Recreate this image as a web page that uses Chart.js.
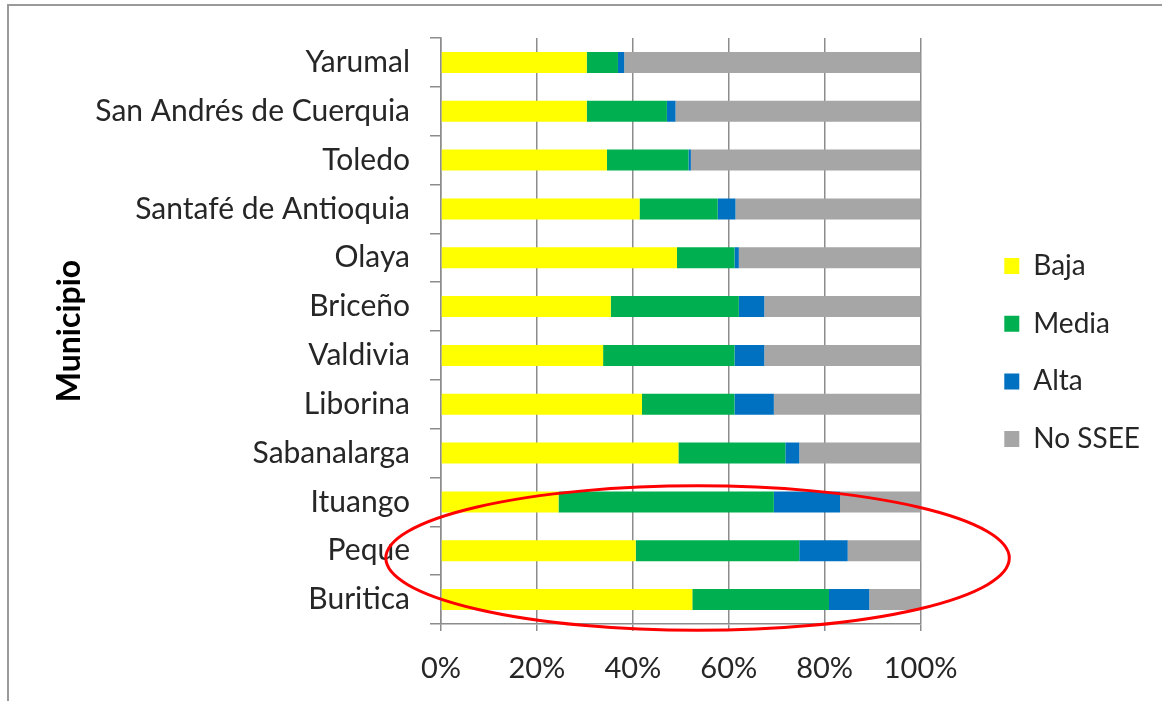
<!DOCTYPE html>
<html>
<head>
<meta charset="utf-8">
<script src="https://cdn.jsdelivr.net/npm/chart.js@4.4.1/dist/chart.umd.min.js"></script>
<style>
  html, body { margin: 0; padding: 0; background: #fff; }
  #wrap { position: relative; width: 1162px; height: 701px; }
  #frame { position: absolute; left: 7px; top: 4px; right: 0; bottom: 0;
           border-top: 2px solid #9a9a9a; border-left: 2px solid #9a9a9a; pointer-events: none; }
</style>
</head>
<body>
<div id="wrap">
  <canvas id="c" width="1162" height="701"></canvas>
  <div id="frame"></div>
</div>
<script>
const categories = ['Yarumal', 'San Andrés de Cuerquia', 'Toledo', 'Santafé de Antioquia', 'Olaya',
  'Briceño', 'Valdivia', 'Liborina', 'Sabanalarga', 'Ituango', 'Peque', 'Buritica'];
const baja   = [30.4, 30.4, 34.6, 41.4, 49.2, 35.4, 33.8, 41.9, 49.5, 24.5, 40.6, 52.4];
const media  = [ 6.5, 16.7, 17.0, 16.3, 12.0, 26.7, 27.4, 19.3, 22.3, 44.9, 34.1, 28.5];
const alta   = [ 1.3,  1.8,  0.5,  3.7,  0.9,  5.3,  6.2,  8.2,  2.9, 13.8, 10.1,  8.4];
const noSsee = [61.8, 51.1, 47.9, 38.6, 37.9, 32.6, 32.6, 30.6, 25.3, 16.8, 15.2, 10.7];
const xTicks = [0, 20, 40, 60, 80, 100];
const seriesNames = ['Baja', 'Media', 'Alta', 'No SSEE'];

const FONT = 'Lato, "Open Sans", sans-serif';
const TEXT = '#262626';
const GRID = '#8c8c8c';

const ellipsePlugin = {
  id: 'ellipse',
  afterDatasetsDraw(chart) {
    const x = chart.scales.x, y = chart.scales.y;
    const cx = x.getPixelForValue(53.5);
    const cy = y.getPixelForValue(10.15);
    const rx = x.getPixelForValue(65) - x.getPixelForValue(0);
    const ry = (y.getPixelForValue(1) - y.getPixelForValue(0)) * 1.48;
    const ctx = chart.ctx;
    ctx.save();
    ctx.beginPath();
    ctx.ellipse(cx, cy, rx, ry, 0, 0, Math.PI * 2);
    ctx.strokeStyle = '#ff0000';
    ctx.lineWidth = 3;
    ctx.stroke();
    ctx.restore();
  }
};

new Chart(document.getElementById('c'), {
  type: 'bar',
  data: {
    labels: categories,
    datasets: [
      { label: seriesNames[0], data: baja,   backgroundColor: '#ffff00' },
      { label: seriesNames[1], data: media,  backgroundColor: '#00b050' },
      { label: seriesNames[2], data: alta,   backgroundColor: '#0070c0' },
      { label: seriesNames[3], data: noSsee, backgroundColor: '#a6a6a6' }
    ]
  },
  options: {
    indexAxis: 'y',
    responsive: false,
    animation: false,
    datasets: { bar: { barPercentage: 0.43, categoryPercentage: 1.0, borderWidth: 0 } },
    layout: { padding: { left: 50, top: 38, right: 12, bottom: 0 } },
    scales: {
      x: {
        stacked: true,
        min: 0, max: 100,
        afterBuildTicks(scale) { scale.ticks = xTicks.map(v => ({ value: v })); },
        afterFit(scale) { scale.height = 77; },
        ticks: { callback: v => v + '%', color: TEXT, font: { family: FONT, size: 29 }, padding: 20 },
        grid: { color: GRID, lineWidth: 1.5, tickLength: 7, drawTicks: true },
        border: { color: GRID, width: 1.5 }
      },
      y: {
        stacked: true,
        afterFit(scale) { scale.width = 391; },
        ticks: { color: TEXT, font: { family: FONT, size: 30 }, padding: 20 },
        grid: { drawOnChartArea: false, color: GRID, lineWidth: 1.5, tickLength: 11, offset: true },
        border: { color: GRID, width: 1.5 },
        title: { display: true, text: 'Municipio', color: '#000', font: { family: FONT, size: 32, weight: 'bold' }, padding: { top: 0, bottom: 0 } }
      },
      gap: {
        type: 'category',
        position: 'right',
        display: true,
        afterFit(scale) { scale.width = 54; },
        ticks: { display: false },
        grid: { display: false },
        border: { display: false }
      }
    },
    plugins: {
      legend: {
        position: 'right',
        align: 'start',
        title: { display: true, text: ' ', font: { family: FONT, size: 10 }, padding: { top: 172.3, bottom: 0 } },
        labels: { color: TEXT, font: { family: FONT, size: 28 }, boxWidth: 15, boxHeight: 16, padding: 29.7 }
      },
      tooltip: { enabled: false }
    }
  },
  plugins: [ellipsePlugin]
});
</script>
</body>
</html>
